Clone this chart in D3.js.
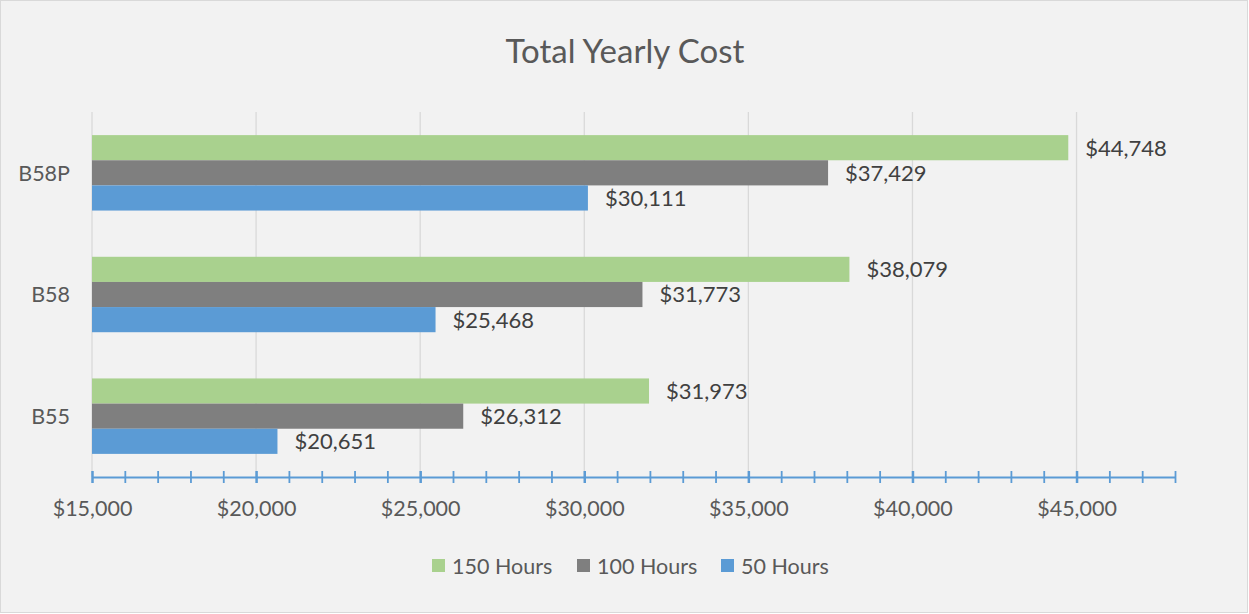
<!DOCTYPE html>
<html>
<head>
<meta charset="utf-8">
<script src="https://cdn.jsdelivr.net/npm/d3@7"></script>
<style>
  body { margin: 0; background: #fff; }
  svg text { font-family: Lato, "Open Sans", sans-serif; }
</style>
</head>
<body>
<svg id="chart" width="1249" height="614"></svg>
<script>
// data
var categories = ['B55', 'B58', 'B58P'];
var seriesNames = ['150 Hours', '100 Hours', '50 Hours'];
var seriesColors = ['#A9D18E', '#7F7F7F', '#5B9BD5'];
var hours150 = [31973, 38079, 44748];
var hours100 = [26312, 31773, 37429];
var hours50 = [20651, 25468, 30111];
var xTicks = [15000, 20000, 25000, 30000, 35000, 40000, 45000];

var seriesValues = [hours150, hours100, hours50];

var width = 1249, height = 614;
var plot = {left: 92, right: 1175, top: 112, bottom: 477};

var svg = d3.select('#chart');

svg.append('rect')
    .attr('x', 0.5).attr('y', 0.5)
    .attr('width', width - 2).attr('height', height - 2)
    .attr('fill', '#f2f2f2')
    .attr('stroke', '#d9d9d9');

svg.append('text')
    .attr('x', 625).attr('y', 63)
    .attr('text-anchor', 'middle')
    .attr('fill', '#595959')
    .style('font-size', '33px')
    .text('Total Yearly Cost');

var x = d3.scaleLinear().domain([15000, 48000]).range([plot.left, plot.right]);

// top category at the top, like Excel
var y = d3.scaleBand()
    .domain(categories.slice().reverse())
    .range([plot.top, plot.bottom])
    .paddingInner(0.38)
    .paddingOuter(0.19);

var ySub = d3.scaleBand().domain(seriesNames).range([0, y.bandwidth()]);

// gridlines
svg.append('g').selectAll('line')
    .data(xTicks)
    .enter().append('line')
    .attr('x1', function(d) { return x(d); })
    .attr('x2', function(d) { return x(d); })
    .attr('y1', plot.top)
    .attr('y2', plot.bottom)
    .attr('stroke', '#d9d9d9')
    .attr('stroke-width', 1.3);

// bars
var rows = [];
categories.forEach(function(c, ci) {
  seriesNames.forEach(function(s, si) {
    rows.push({cat: c, series: s, color: seriesColors[si], v: seriesValues[si][ci]});
  });
});

var bars = svg.append('g');
bars.selectAll('rect')
    .data(rows)
    .enter().append('rect')
    .attr('x', x(15000))
    .attr('y', function(d) { return y(d.cat) + ySub(d.series); })
    .attr('width', function(d) { return x(d.v) - x(15000); })
    .attr('height', ySub.bandwidth())
    .attr('fill', function(d) { return d.color; });

bars.selectAll('text')
    .data(rows)
    .enter().append('text')
    .attr('x', function(d) { return x(d.v) + 17; })
    .attr('y', function(d) { return y(d.cat) + ySub(d.series) + ySub.bandwidth() / 2; })
    .attr('dy', '0.36em')
    .attr('fill', '#404040')
    .style('font-size', '22px')
    .text(function(d) { return d3.format('$,')(d.v); });

// category labels
svg.append('g').selectAll('text')
    .data(categories)
    .enter().append('text')
    .attr('x', 70)
    .attr('y', function(d) { return y(d) + y.bandwidth() / 2; })
    .attr('dy', '0.36em')
    .attr('text-anchor', 'end')
    .attr('fill', '#595959')
    .style('font-size', '21.5px')
    .text(function(d) { return d; });

// x axis
var axis = d3.axisBottom(x)
    .tickValues(d3.range(15000, 48001, 1000))
    .tickSize(6)
    .tickSizeOuter(0)
    .tickFormat(function(d) { return d % 5000 === 0 ? d3.format('$,')(d) : ''; });

var gx = svg.append('g')
    .attr('transform', 'translate(0,' + plot.bottom + ')')
    .call(axis);

gx.select('.domain').attr('stroke', '#5B9BD5').attr('stroke-width', 2);
gx.selectAll('.tick line')
    .attr('y1', -6)
    .attr('stroke', '#5B9BD5')
    .attr('stroke-width', function(d) { return d % 5000 === 0 ? 2.5 : 1.8; });
gx.selectAll('.tick text')
    .attr('y', 24)
    .attr('fill', '#595959')
    .style('font-size', '21.5px')
    .style('font-family', 'Lato, sans-serif');

// legend
var legend = svg.append('g').selectAll('g')
    .data(seriesNames)
    .enter().append('g')
    .attr('transform', function(d, i) { return 'translate(' + [432, 577, 721][i] + ',559)'; });

legend.append('rect')
    .attr('width', 13).attr('height', 13)
    .attr('fill', function(d, i) { return seriesColors[i]; });

legend.append('text')
    .attr('x', 20).attr('y', 7)
    .attr('dy', '0.36em')
    .attr('fill', '#595959')
    .style('font-size', '21.5px')
    .text(function(d) { return d; });
</script>
</body>
</html>
